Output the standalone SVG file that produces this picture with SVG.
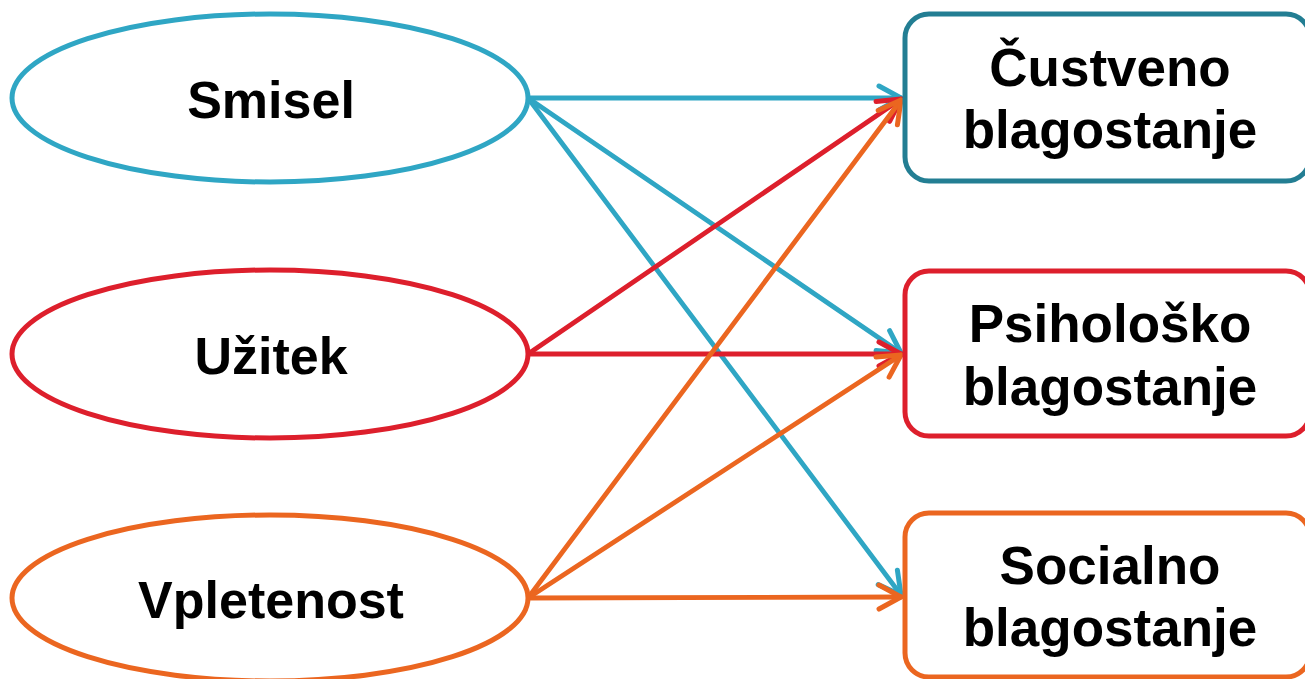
<svg xmlns="http://www.w3.org/2000/svg" width="1305" height="679" viewBox="0 0 1305 679">
  <style>
    .lbl { font-family: "Liberation Sans", Arial, sans-serif; font-weight: bold; font-size: 52px; fill: #000; text-anchor: middle; }
    .box { font-size: 53px; }
    .node { fill: #fff; stroke-width: 5; }
    .edge { fill: none; stroke-width: 4.8; stroke-linecap: round; }
    .teal { stroke: #2fa6c4; }
    .red { stroke: #dd1f2c; }
    .orange { stroke: #eb6620; }
  </style>
  <defs>
    <marker id="arrTeal" markerUnits="userSpaceOnUse" viewBox="-30 -16 34 32" refX="0" refY="0" markerWidth="34" markerHeight="32" orient="auto" overflow="visible">
      <path d="M-22,-12 L0,0 L-22,12" fill="none" stroke="#2fa6c4" stroke-width="5" stroke-linecap="round" stroke-linejoin="round"/>
    </marker>
    <marker id="arrRed" markerUnits="userSpaceOnUse" viewBox="-30 -16 34 32" refX="0" refY="0" markerWidth="34" markerHeight="32" orient="auto" overflow="visible">
      <path d="M-22,-12 L0,0 L-22,12" fill="none" stroke="#dd1f2c" stroke-width="5" stroke-linecap="round" stroke-linejoin="round"/>
    </marker>
    <marker id="arrOrange" markerUnits="userSpaceOnUse" viewBox="-30 -16 34 32" refX="0" refY="0" markerWidth="34" markerHeight="32" orient="auto" overflow="visible">
      <path d="M-22,-12 L0,0 L-22,12" fill="none" stroke="#eb6620" stroke-width="5" stroke-linecap="round" stroke-linejoin="round"/>
    </marker>
  </defs>
  <rect width="1305" height="679" fill="#fff"/>

  <g id="connectors">
    <line class="edge teal" x1="528" y1="98" x2="901" y2="98" marker-end="url(#arrTeal)"/>
    <line class="edge teal" x1="528" y1="98" x2="901" y2="353" marker-end="url(#arrTeal)"/>
    <line class="edge teal" x1="528" y1="98" x2="901" y2="595" marker-end="url(#arrTeal)"/>
    <line class="edge red" x1="528" y1="354" x2="901" y2="99" marker-end="url(#arrRed)"/>
    <line class="edge red" x1="528" y1="354" x2="901" y2="354" marker-end="url(#arrRed)"/>
    <line class="edge orange" x1="528" y1="598" x2="901" y2="100" marker-end="url(#arrOrange)"/>
    <line class="edge orange" x1="528" y1="598" x2="901" y2="355" marker-end="url(#arrOrange)"/>
    <line class="edge orange" x1="528" y1="598" x2="901" y2="597" marker-end="url(#arrOrange)"/>
  </g>

  <g id="smisel">
    <ellipse class="node teal" cx="270" cy="98" rx="258" ry="84"/>
    <text class="lbl" x="271" y="118">Smisel</text>
  </g>
  <g id="uzitek">
    <ellipse class="node red" cx="270" cy="354" rx="258" ry="84"/>
    <text class="lbl" x="271" y="374">Užitek</text>
  </g>
  <g id="vpletenost">
    <ellipse class="node orange" cx="270" cy="598" rx="258" ry="83"/>
    <text class="lbl" x="271" y="618">Vpletenost</text>
  </g>

  <g id="custveno">
    <rect class="node" x="905" y="14" width="405" height="167" rx="24" stroke="#237e93"/>
    <text class="lbl box" x="1110" y="86">Čustveno</text>
    <text class="lbl box" x="1110" y="148">blagostanje</text>
  </g>
  <g id="psiholosko">
    <rect class="node red" x="905" y="271" width="405" height="165" rx="24"/>
    <text class="lbl box" x="1110" y="342">Psihološko</text>
    <text class="lbl box" x="1110" y="405">blagostanje</text>
  </g>
  <g id="socialno">
    <rect class="node orange" x="905" y="513" width="405" height="164" rx="24"/>
    <text class="lbl box" x="1110" y="584">Socialno</text>
    <text class="lbl box" x="1110" y="646">blagostanje</text>
  </g>
</svg>
